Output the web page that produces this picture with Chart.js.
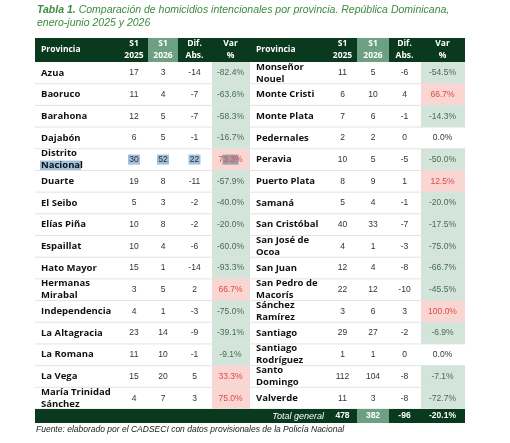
<!DOCTYPE html>
<html>
<head>
<meta charset="utf-8">
<script src="https://cdn.jsdelivr.net/npm/chart.js@4"></script>
<style>
  html, body { margin: 0; padding: 0; background: #fff; }
  #wrap { width: 510px; height: 443px; position: relative; }
</style>
</head>
<body>
<div id="wrap"><canvas id="tabla"></canvas></div>
<script>
    // datos de la tabla (columna izquierda y derecha)
    const provIzq = ['Azua', 'Baoruco', 'Barahona', 'Dajabón', 'Distrito\nNacional', 'Duarte', 'El Seibo', 'Elías Piña',
        'Espaillat', 'Hato Mayor', 'Hermanas\nMirabal', 'Independencia', 'La Altagracia', 'La Romana', 'La Vega', 'María Trinidad\nSánchez'];
    const s1_2025Izq = [17, 11, 12, 6, 30, 19, 5, 10, 10, 15, 3, 4, 23, 11, 15, 4];
    const s1_2026Izq = [3, 4, 5, 5, 52, 8, 3, 8, 4, 1, 5, 1, 14, 10, 20, 7];
    const difIzq = [-14, -7, -7, -1, 22, -11, -2, -2, -6, -14, 2, -3, -9, -1, 5, 3];
    const varIzq = [-82.4, -63.6, -58.3, -16.7, 73.3, -57.9, -40.0, -20.0, -60.0, -93.3, 66.7, -75.0, -39.1, -9.1, 33.3, 75.0];

    const provDer = ['Monseñor\nNouel', 'Monte Cristi', 'Monte Plata', 'Pedernales', 'Peravia', 'Puerto Plata', 'Samaná', 'San Cristóbal',
        'San José de\nOcoa', 'San Juan', 'San Pedro de\nMacorís', 'Sánchez\nRamírez', 'Santiago', 'Santiago\nRodríguez', 'Santo\nDomingo', 'Valverde'];
    const s1_2025Der = [11, 6, 7, 2, 10, 8, 5, 40, 4, 12, 22, 3, 29, 1, 112, 11];
    const s1_2026Der = [5, 10, 6, 2, 5, 9, 4, 33, 1, 4, 12, 6, 27, 1, 104, 3];
    const difDer = [-6, 4, -1, 0, -5, 1, -1, -7, -3, -8, -10, 3, -2, 0, -8, -8];
    const varDer = [-54.5, 66.7, -14.3, 0.0, -50.0, 12.5, -20.0, -17.5, -75.0, -66.7, -45.5, 100.0, -6.9, 0.0, -7.1, -72.7];

    const totales = [478, 382, -96, -20.1];
    const encabezados = ['Provincia', 'S1\n2025', 'S1\n2026', 'Dif.\nAbs.', 'Var\n%'];

    // bordes de columnas en px de pantalla
    const colsIzq = [35, 120, 148, 178, 211, 250];
    const colsDer = [250, 328, 357, 389, 420, 465];

    const VERDE_OSCURO = '#093a1d';
    const VERDE_MEDIO = '#6d9f83';
    const fNombre = 'bold 9.5px "Open Sans", sans-serif';
    const fNum = '8.5px "Liberation Sans", sans-serif';

    function lineas(ctx, txt, x, y, lh) {
        const ls = txt.split('\n');
        ls.forEach((l, i) => ctx.fillText(l, x, y + (i - (ls.length - 1) / 2) * lh));
    }

    function fmtVar(v) { return v.toFixed(1) + '%'; }

    const tablaPlugin = {
        id: 'tabla',
        afterDraw(chart) {
            const ctx = chart.ctx;
            const y = chart.scales.y;
            const n = provIzq.length;
            const h = y.getPixelForValue(1) - y.getPixelForValue(0);
            ctx.save();
            ctx.textBaseline = 'middle';

            // titulo
            ctx.fillStyle = '#3d8b3d';
            ctx.textAlign = 'left';
            ctx.font = 'bold italic 10.5px "Liberation Sans", sans-serif';
            ctx.fillText('Tabla 1.', 37, 10);
            const w = ctx.measureText('Tabla 1. ').width;
            ctx.font = 'italic 10.5px "Liberation Sans", sans-serif';
            ctx.fillText('Comparación de homicidios intencionales por provincia. República Dominicana,', 37 + w, 10);
            ctx.fillText('enero-junio 2025 y 2026', 37, 23);

            // encabezado
            const top = chart.chartArea.top;
            ctx.fillStyle = VERDE_OSCURO;
            ctx.fillRect(35, 38, 430, top - 38);
            ctx.fillStyle = VERDE_MEDIO;
            ctx.fillRect(colsIzq[2], 38, colsIzq[3] - colsIzq[2], top - 38);
            ctx.fillRect(colsDer[2], 38, colsDer[3] - colsDer[2], top - 38);
            ctx.fillStyle = '#fff';
            ctx.font = 'bold 8.5px "Open Sans", sans-serif';
            [colsIzq, colsDer].forEach(cols => {
                encabezados.forEach((t, i) => {
                    if (i === 0) { ctx.textAlign = 'left'; lineas(ctx, t, cols[0] + 6, (38 + top) / 2, 12); }
                    else { ctx.textAlign = 'center'; lineas(ctx, t, (cols[i] + cols[i + 1]) / 2, (38 + top) / 2, 12); }
                });
            });

            // filas
            const lados = [
                [colsIzq, provIzq, s1_2025Izq, s1_2026Izq, difIzq, varIzq],
                [colsDer, provDer, s1_2025Der, s1_2026Der, difDer, varDer]
            ];
            for (let r = 0; r < n; r++) {
                const cy = y.getPixelForValue(r);
                const y0 = cy - h / 2;
                lados.forEach(([cols, prov, a, b, d, v]) => {
                    const vv = v[r];
                    if (vv !== 0) {
                        ctx.fillStyle = vv < 0 ? '#d3e5da' : '#f9d6d1';
                        ctx.fillRect(cols[4] + 1, y0, cols[5] - cols[4] - 1, h);
                    }
                    if (r === 4 && cols === colsIzq) {
                        // seleccion resaltada en la fila de Distrito Nacional
                        ctx.fillStyle = '#9fbfdc';
                        ctx.fillRect(cols[0] + 5, cy + 1, 41, 10);
                        [1, 2, 3].forEach(i => ctx.fillRect((cols[i] + cols[i + 1]) / 2 - 6, cy - 5, 12, 10));
                        ctx.fillStyle = '#a09ea4';
                        ctx.fillRect((cols[4] + cols[5]) / 2 - 8, cy - 5, 16, 10);
                    }
                    ctx.fillStyle = '#111';
                    ctx.font = fNombre;
                    ctx.textAlign = 'left';
                    lineas(ctx, prov[r], cols[0] + 6, cy, 12);
                    ctx.font = fNum;
                    ctx.textAlign = 'center';
                    ctx.fillStyle = '#333';
                    [a[r], b[r], d[r]].forEach((val, i) => ctx.fillText(String(val), (cols[i + 1] + cols[i + 2]) / 2, cy));
                    ctx.fillStyle = vv > 0 ? '#e0484a' : (vv < 0 ? '#4a6a55' : '#333');
                    ctx.fillText(fmtVar(vv), (cols[4] + cols[5]) / 2, cy);
                });
                // separador
                ctx.fillStyle = '#e3e3e3';
                ctx.fillRect(35, y0 + h - 0.5, 430, 1);
            }

            // total
            const bot = chart.chartArea.bottom;
            ctx.fillStyle = VERDE_OSCURO;
            ctx.fillRect(35, bot, 430, 14);
            ctx.fillStyle = VERDE_MEDIO;
            ctx.fillRect(colsDer[2], bot, colsDer[3] - colsDer[2], 14);
            ctx.fillStyle = '#fff';
            ctx.textAlign = 'right';
            ctx.font = 'italic 9px "Liberation Sans", sans-serif';
            ctx.fillText('Total general', colsDer[1] - 4, bot + 7);
            ctx.textAlign = 'center';
            ctx.font = 'bold 8.5px "Liberation Sans", sans-serif';
            totales.forEach((t, i) => {
                const txt = i === 3 ? fmtVar(t) : String(t);
                ctx.fillText(txt, (colsDer[i + 1] + colsDer[i + 2]) / 2, bot + 7);
            });

            // fuente
            ctx.fillStyle = '#222';
            ctx.textAlign = 'left';
            ctx.font = 'italic 8.5px "Liberation Sans", sans-serif';
            ctx.fillText('Fuente: elaborado por el CADSECI con datos provisionales de la Policía Nacional', 36, bot + 21);
            ctx.restore();
        }
    };

    new Chart(document.getElementById('tabla'), {
        type: 'bar',
        data: {
            labels: provIzq,
            datasets: [{ data: s1_2025Izq.map(() => null) }]
        },
        options: {
            responsive: true,
            maintainAspectRatio: false,
            animation: false,
            indexAxis: 'y',
            layout: { padding: { top: 62, bottom: 34, left: 35, right: 45 } },
            scales: {
                y: { type: 'category', offset: true, display: false },
                x: { display: false }
            },
            plugins: { legend: { display: false }, tooltip: { enabled: false } }
        },
        plugins: [tablaPlugin]
    });
</script>
</body>
</html>
